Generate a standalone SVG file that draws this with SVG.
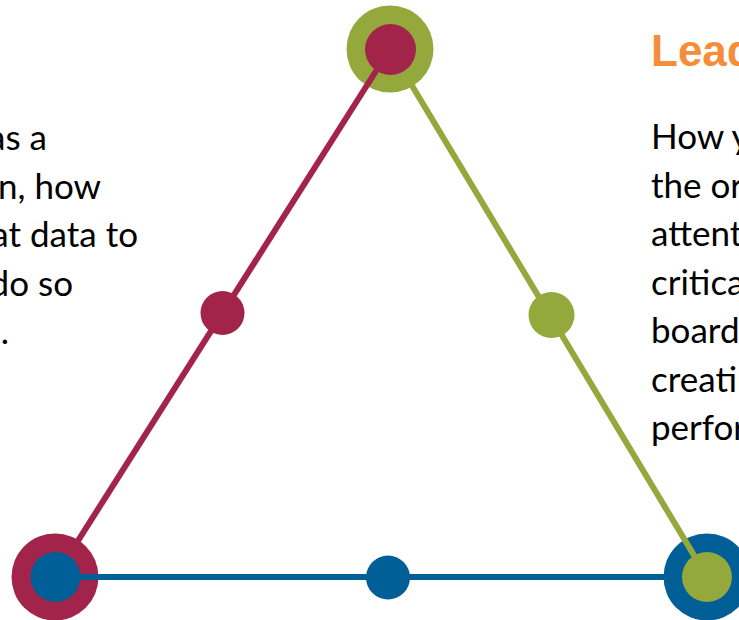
<svg xmlns="http://www.w3.org/2000/svg" width="739" height="620" viewBox="0 0 739 620">
  <style>
    .body { font-family: Lato, "Open Sans", sans-serif; font-size: 35px; fill: #000000; }
    .title { font-family: "Liberation Sans", Arial, sans-serif; font-weight: bold; font-size: 44px; fill: #F68D39; }
    .crimson { fill: #A3244B; }
    .green { fill: #94A83C; }
    .blue { fill: #005F96; }
    .edge { stroke-width: 6; fill: none; }
  </style>
  <rect width="739" height="620" fill="#FFFFFF"/>

  <g id="outer-rings">
    <circle id="ring-top" class="green" cx="390" cy="49" r="43.5"/>
    <circle id="ring-left" class="crimson" cx="55" cy="577" r="43.5"/>
    <circle id="ring-right" class="blue" cx="707" cy="577" r="43.5"/>
  </g>

  <g id="connectors">
    <line class="edge" stroke="#A3244B" x1="55" y1="577" x2="390" y2="49"/>
    <line class="edge" stroke="#94A83C" x1="390" y1="49" x2="707" y2="577"/>
    <line class="edge" stroke="#005F96" x1="55" y1="577" x2="707" y2="577"/>
  </g>

  <g id="node-top"><circle class="crimson" cx="390.5" cy="49.5" r="25.5"/></g>
  <g id="node-left"><circle class="blue" cx="55.5" cy="577" r="25"/></g>
  <g id="node-right"><circle class="green" cx="707" cy="577" r="25"/></g>
  <g id="mid-left"><circle class="crimson" cx="222.5" cy="313" r="22"/></g>
  <g id="mid-right"><circle class="green" cx="551.5" cy="315" r="23"/></g>
  <g id="mid-bottom"><circle class="blue" cx="388" cy="577.5" r="22"/></g>

  <g id="text-left" class="body" text-anchor="end">
    <text x="47" y="150">as a</text>
    <text x="101" y="198.5">n, how</text>
    <text x="138" y="247">at data to</text>
    <text x="73" y="295.5">do so</text>
    <text x="9" y="344">.</text>
  </g>

  <g id="text-right">
    <text class="title" x="651" y="66">Lead</text>
    <g class="body">
      <text x="651" y="149">How y</text>
      <text x="651" y="197.5">the or</text>
      <text x="651" y="246">attent</text>
      <text x="651" y="294.5">critica</text>
      <text x="651" y="343">board</text>
      <text x="651" y="391.5">creatin</text>
      <text x="651" y="440">perfor</text>
    </g>
  </g>
</svg>
